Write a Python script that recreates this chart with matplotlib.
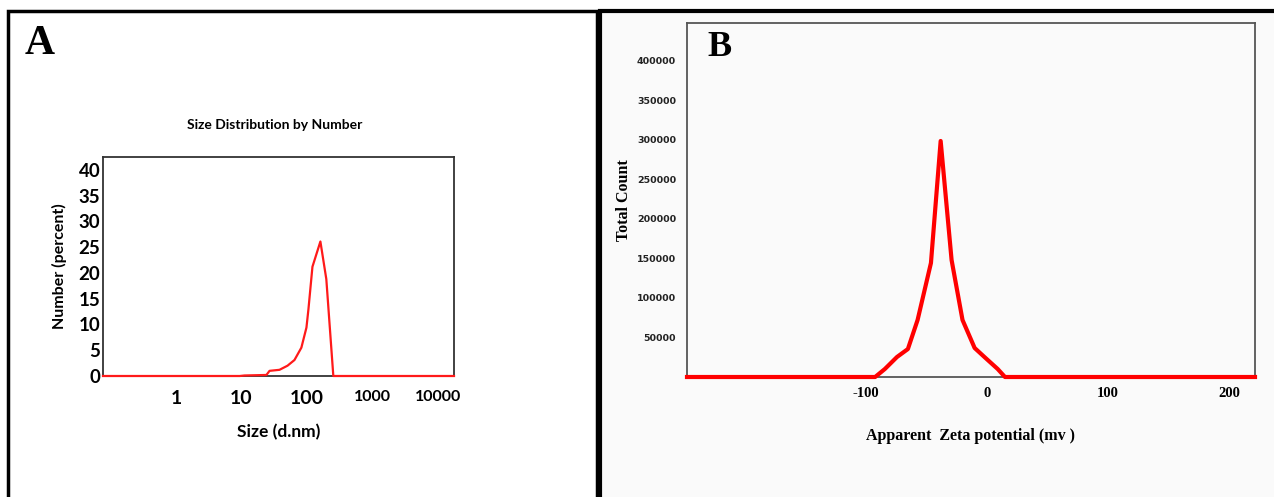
import numpy as np
import matplotlib
matplotlib.use('Agg')
import matplotlib.pyplot as plt
from matplotlib.patches import Rectangle

plt.rcParams['axes.unicode_minus'] = False

# Panel A: size distribution by number
size_nm = [0.077, 9.4, 11.1, 24, 26.8, 38, 50.4, 64.3, 82, 98, 105, 121, 160, 197, 252, 17500]
number_pct = [0, 0, 0.1, 0.2, 1.0, 1.2, 2.0, 3.1, 5.5, 9.4, 12.9, 21.2, 26.1, 18.8, 0, 0]
size_ticks = [1, 10, 100, 1000, 10000]
size_ticklabels = ['1', '10', '100', '1000', '10000']
pct_ticks = [0, 5, 10, 15, 20, 25, 30, 35, 40]

# Panel B: zeta potential distribution
zeta_mv = [-247, -92, -84, -74, -65, -57, -46, -38, -29, -20, -10, -1, 9, 15, 221]
total_count = [0, 0, 10100, 25300, 35400, 72200, 144300, 298700, 148100, 72200,
               36700, 24000, 10100, 0, 0]
zeta_ticks = [-100, 0, 100, 200]
count_ticks = [50000, 100000, 150000, 200000, 250000, 300000, 350000, 400000]

narrow = ['Lato', 'DejaVu Sans']
serif = ['Liberation Serif', 'DejaVu Serif']

W, H = 1274, 497
fig = plt.figure(figsize=(W / 100, H / 100), dpi=100)
fig.patch.set_facecolor('white')

# panel backgrounds and frames
fig.patches.append(Rectangle((600 / W, -0.1), 700 / W, 1.1 - 11 / H, transform=fig.transFigure,
                             facecolor='#fafafa', edgecolor='black', linewidth=3, zorder=-5))
fig.patches.append(Rectangle((8 / W, -0.1), 589 / W, 1.1 - 11 / H, transform=fig.transFigure,
                             facecolor='white', edgecolor='black', linewidth=2.5, zorder=-5))

# ---- A ----
ax1 = fig.add_axes([103 / W, (H - 376) / H, 351 / W, 219 / H])
ax1.plot(size_nm, number_pct, color='#ff1a1a', linewidth=1.6, clip_on=False, zorder=3)
ax1.set_xscale('log')
ax1.set_xlim(0.077, 17500)
ax1.set_ylim(0, 42.5)
ax1.set_xticks(size_ticks)
ax1.set_xticklabels(size_ticklabels)
ax1.minorticks_off()
ax1.set_yticks(pct_ticks)
ax1.tick_params(length=0, pad=10)
for i, lab in enumerate(ax1.get_xticklabels()):
    lab.set_fontfamily(narrow)
    lab.set_fontweight('bold')
    lab.set_fontsize(14 if i < 3 else 11.5)
for lab in ax1.get_yticklabels():
    lab.set_fontfamily(narrow)
    lab.set_fontweight('bold')
    lab.set_fontsize(13.5)
ax1.tick_params(axis='y', pad=2)
for s in ax1.spines.values():
    s.set_color('#333333')
    s.set_linewidth(1.3)
ax1.set_xlabel('Size (d.nm)', family=narrow, fontweight='bold', fontsize=12.5, labelpad=12)
ax1.set_ylabel('Number (percent)', family=narrow, fontweight='bold', fontsize=11.5, labelpad=8)
fig.text(275 / W, 1 - 125 / H, 'Size Distribution by Number', family=narrow, fontweight='bold',
         fontsize=10, ha='center', va='center')
fig.text(40 / W, 1 - 44 / H, 'A', family=serif, fontweight='bold', fontsize=30,
         ha='center', va='center')

# ---- B ----
ax2 = fig.add_axes([687 / W, (H - 377) / H, 568 / W, 354 / H])
ax2.set_facecolor('#fafafa')
ax2.plot(zeta_mv, total_count, color='#ff0000', linewidth=3, clip_on=False, zorder=3)
ax2.set_xlim(-247, 221)
ax2.set_ylim(0, 448000)
ax2.set_xticks(zeta_ticks)
ax2.set_yticks(count_ticks)
ax2.tick_params(length=0)
ax2.tick_params(axis='y', pad=8)
ax2.tick_params(axis='x', pad=7)
for lab in ax2.get_yticklabels():
    lab.set_fontfamily('DejaVu Sans')
    lab.set_fontweight('bold')
    lab.set_fontsize(6.8)
    lab.set_color('#222222')
for lab in ax2.get_xticklabels():
    lab.set_fontfamily(serif)
    lab.set_fontweight('bold')
    lab.set_fontsize(10.5)
for s in ax2.spines.values():
    s.set_color('#555555')
    s.set_linewidth(1.3)
ax2.set_xlabel('Apparent  Zeta potential (mv )', family=serif, fontweight='bold',
               fontsize=11.5, labelpad=20)
ax2.set_ylabel('Total Count', family=serif, fontweight='bold', fontsize=11.5)
ax2.yaxis.set_label_coords((632 - 687) / 568, 0.5 + (377 - 200 - 177) / 354)
fig.text(720 / W, 1 - 47 / H, 'B', family=serif, fontweight='bold', fontsize=26,
         ha='center', va='center')

fig.savefig('out.png', dpi=100)
